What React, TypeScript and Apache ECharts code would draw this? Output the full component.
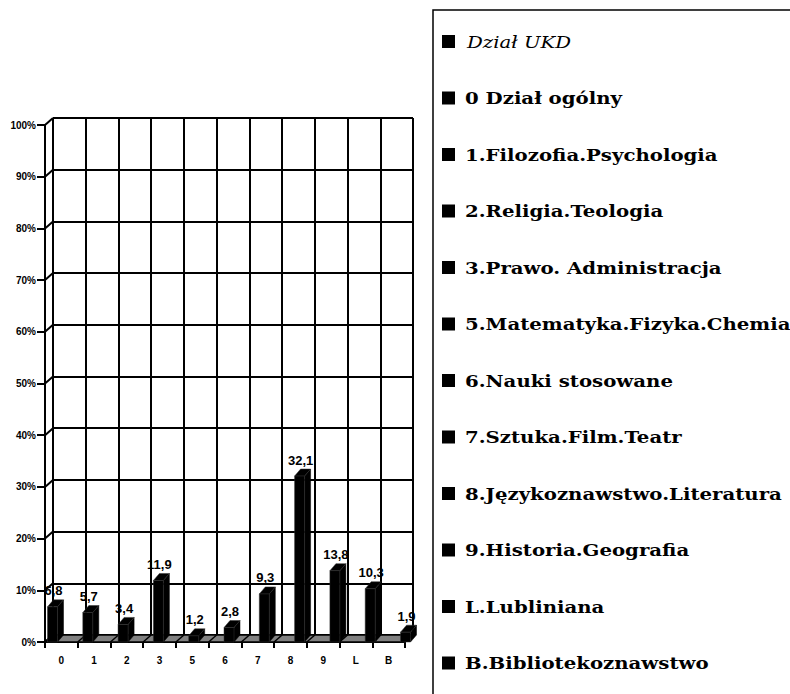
import React, { useEffect, useRef } from "react";
import * as echarts from "echarts";

const categories = ["0", "1", "2", "3", "5", "6", "7", "8", "9", "L", "B"];
const values = [6.8, 5.7, 3.4, 11.9, 1.2, 2.8, 9.3, 32.1, 13.8, 10.3, 1.9];
const yTicks = [0, 10, 20, 30, 40, 50, 60, 70, 80, 90, 100];
const legendLabels = [
  "Dział UKD",
  "0 Dział ogólny",
  "1.Filozofia.Psychologia",
  "2.Religia.Teologia",
  "3.Prawo. Administracja",
  "5.Matematyka.Fizyka.Chemia",
  "6.Nauki stosowane",
  "7.Sztuka.Film.Teatr",
  "8.Językoznawstwo.Literatura",
  "9.Historia.Geografia",
  "L.Lubliniana",
  "B.Bibliotekoznawstwo",
];

const SANS = "Arial, 'Liberation Sans', sans-serif";
const SERIF = "'DejaVu Serif', serif";
const WALL_DX = 8;
const WALL_DY = 7;
const BAR_DX = 6;
const BAR_DY = 7;
const BAR_W = 10;

export default function App() {
  const ref = useRef<HTMLDivElement>(null);
  useEffect(() => {
    if (!ref.current) return;
    const chart = echarts.init(ref.current, null, { renderer: "svg" });

    const legendGraphics: any[] = [
      {
        type: "rect",
        shape: { x: 433, y: 10, width: 420, height: 720 },
        style: { fill: "#fff", stroke: "#000", lineWidth: 1.5 },
        z: 0,
      },
    ];
    legendLabels.forEach((lab, i) => {
      const cy = 41.5 + 56.5 * i;
      legendGraphics.push({
        type: "rect",
        shape: { x: 442, y: cy - 6.5, width: 13, height: 13 },
        style: { fill: "#000" },
        z: 1,
      });
      legendGraphics.push({
        type: "text",
        x: i === 0 ? 467 : 465,
        y: cy,
        scaleX: 1.16,
        style: {
          text: lab,
          fill: "#000",
          font: `${i === 0 ? "italic normal" : "normal bold"} 17px ${SERIF}`,
          verticalAlign: "middle",
          align: "left",
        },
        z: 1,
      });
    });

    const option: any = {
      animation: false,
      backgroundColor: "#fff",
      grid: [
        { left: 45, top: 125, width: 360, height: 517 },
        { left: 53, top: 118, width: 360, height: 517 },
        { left: 34.85, top: 125, width: 388.3, height: 517 },
      ],
      xAxis: [
        {
          type: "category",
          gridIndex: 0,
          data: categories,
          axisLine: { lineStyle: { color: "#000", width: 2 } },
          axisTick: { show: true, length: 6, lineStyle: { color: "#000", width: 2 } },
          axisLabel: { color: "#000", fontWeight: "bold", fontSize: 10, fontFamily: SANS, margin: 13 },
          splitLine: { show: false },
        },
        {
          type: "category",
          gridIndex: 1,
          data: categories,
          axisLine: { show: false },
          axisTick: { show: false },
          axisLabel: { show: false },
          splitLine: { show: true, lineStyle: { color: "#000", width: 2 } },
        },
        { type: "category", gridIndex: 2, data: categories, show: false },
      ],
      yAxis: [
        {
          type: "value",
          gridIndex: 0,
          min: 0,
          max: 100,
          interval: 10,
          axisLine: { show: true, lineStyle: { color: "#000", width: 2 } },
          axisTick: { show: true, length: 8, lineStyle: { color: "#000", width: 2 } },
          axisLabel: {
            formatter: "{value}%",
            color: "#000",
            fontWeight: "bold",
            fontSize: 10,
            fontFamily: SANS,
            margin: 9,
          },
          splitLine: { show: false },
        },
        {
          type: "value",
          gridIndex: 1,
          min: 0,
          max: 100,
          interval: 10,
          axisLine: { show: false },
          axisTick: { show: false },
          axisLabel: { show: false },
          splitLine: { show: true, lineStyle: { color: "#000", width: 2 } },
        },
        { type: "value", gridIndex: 2, min: 0, max: 100, interval: 10, show: false },
      ],
      graphic: legendGraphics,
      series: [
        {
          type: "custom",
          name: "walls",
          xAxisIndex: 0,
          yAxisIndex: 0,
          clip: false,
          z: 3,
          data: [[0, 0]],
          renderItem: (params: any, api: any) => {
            const bw = api.size([1, 0])[0];
            const left = api.coord([0, 0])[0] - bw / 2;
            const y0 = api.coord([0, 0])[1];
            const right = left + bw * categories.length;
            const children: any[] = [
              {
                type: "polygon",
                shape: {
                  points: [
                    [left, y0],
                    [right, y0],
                    [right + WALL_DX, y0 - WALL_DY],
                    [left + WALL_DX, y0 - WALL_DY],
                  ],
                },
                style: { fill: "#808080", stroke: "#000", lineWidth: 1.5 },
              },
            ];
            for (let i = 0; i <= categories.length; i++) {
              const x = left + i * bw;
              children.push({
                type: "line",
                shape: { x1: x, y1: y0, x2: x + WALL_DX, y2: y0 - WALL_DY },
                style: { stroke: "#000", lineWidth: 1.5 },
              });
            }
            yTicks.forEach((v) => {
              const y = api.coord([0, v])[1];
              children.push({
                type: "line",
                shape: { x1: left, y1: y, x2: left + WALL_DX, y2: y - WALL_DY },
                style: { stroke: "#000", lineWidth: 2 },
              });
            });
            return { type: "group", children };
          },
        },
        {
          type: "custom",
          name: "Dział UKD",
          xAxisIndex: 2,
          yAxisIndex: 2,
          clip: false,
          z: 5,
          data: categories.map((c, i) => [i, values[i]]),
          renderItem: (params: any, api: any) => {
            const v = api.value(1);
            const base = api.coord([api.value(0), 0]);
            const top = api.coord([api.value(0), v]);
            const x0 = top[0] - BAR_W / 2;
            const x1 = x0 + BAR_W;
            const yT = top[1];
            const yB = base[1];
            return {
              type: "group",
              children: [
                {
                  type: "polygon",
                  shape: {
                    points: [
                      [x1, yT],
                      [x1 + BAR_DX, yT - BAR_DY],
                      [x1 + BAR_DX, yB - BAR_DY],
                      [x1, yB],
                    ],
                  },
                  style: { fill: "#000", stroke: "#000", lineWidth: 0.5 },
                },
                {
                  type: "polygon",
                  shape: {
                    points: [
                      [x0, yT],
                      [x0 + BAR_DX, yT - BAR_DY],
                      [x1 + BAR_DX, yT - BAR_DY],
                      [x1, yT],
                    ],
                  },
                  style: { fill: "#000", stroke: "#333", lineWidth: 0.5 },
                },
                {
                  type: "rect",
                  shape: { x: x0, y: yT, width: BAR_W, height: yB - yT },
                  style: { fill: "#000", stroke: "#333", lineWidth: 0.5 },
                },
                {
                  type: "text",
                  x: top[0] + 1,
                  y: yT - 16,
                  style: {
                    text: v.toFixed(1).replace(".", ","),
                    fill: "#000",
                    font: `bold 13px ${SANS}`,
                    align: "center",
                    verticalAlign: "middle",
                  },
                },
              ],
            };
          },
        },
      ],
    };
    chart.setOption(option);
    return () => chart.dispose();
  }, []);
  return (
    <div
      ref={ref}
      style={{ position: "fixed", left: 0, top: 0, width: 790, height: 694, background: "#fff" }}
    />
  );
}
